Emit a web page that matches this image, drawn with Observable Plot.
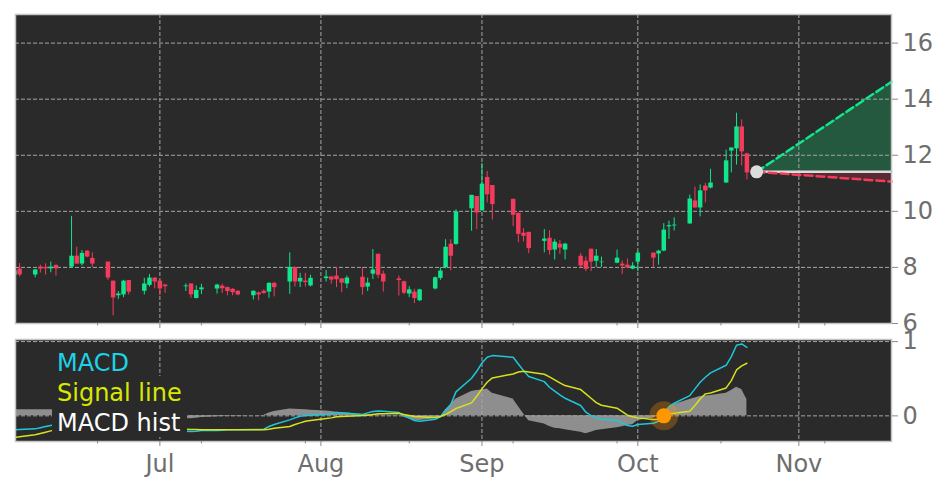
<!DOCTYPE html>
<html>
<head>
<meta charset="utf-8">
<script src="https://cdn.jsdelivr.net/npm/d3@7"></script>
<script src="https://cdn.jsdelivr.net/npm/@observablehq/plot@0.6"></script>
<style>
  html, body { margin: 0; padding: 0; background: #fff; }
  #chart { position: relative; width: 943px; height: 486px; overflow: hidden; font-family: "DejaVu Sans", sans-serif; }
  #chart svg { position: absolute; left: 0; background: transparent; overflow: visible; font-family: "DejaVu Sans", sans-serif; }
  #legendBox { position: absolute; left: 52px; top: 376px; width: 135px; height: 61px; background: #2a2a2a; }
  .lg { position: absolute; left: 57px; font-size: 24px; line-height: 28px; white-space: nowrap; }
</style>
</head>
<body>
<div id="chart"></div>
<script>
const dates = ["2021-06-03","2021-06-04","2021-06-07","2021-06-08","2021-06-09","2021-06-10","2021-06-11","2021-06-14","2021-06-15","2021-06-16","2021-06-17","2021-06-18","2021-06-21","2021-06-22","2021-06-23","2021-06-24","2021-06-25","2021-06-28","2021-06-29","2021-06-30","2021-07-01","2021-07-02","2021-07-06","2021-07-07","2021-07-08","2021-07-09","2021-07-12","2021-07-13","2021-07-14","2021-07-15","2021-07-16","2021-07-19","2021-07-20","2021-07-21","2021-07-22","2021-07-23","2021-07-26","2021-07-27","2021-07-28","2021-07-29","2021-07-30","2021-08-02","2021-08-03","2021-08-04","2021-08-05","2021-08-06","2021-08-09","2021-08-10","2021-08-11","2021-08-12","2021-08-13","2021-08-16","2021-08-17","2021-08-18","2021-08-19","2021-08-20","2021-08-23","2021-08-24","2021-08-25","2021-08-26","2021-08-27","2021-08-30","2021-08-31","2021-09-01","2021-09-02","2021-09-03","2021-09-07","2021-09-08","2021-09-09","2021-09-10","2021-09-13","2021-09-14","2021-09-15","2021-09-16","2021-09-17","2021-09-20","2021-09-21","2021-09-22","2021-09-23","2021-09-24","2021-09-27","2021-09-28","2021-09-29","2021-09-30","2021-10-01","2021-10-04","2021-10-05","2021-10-06","2021-10-07","2021-10-08","2021-10-11","2021-10-12","2021-10-13","2021-10-14","2021-10-15","2021-10-18","2021-10-19","2021-10-20","2021-10-21","2021-10-22"];
const opens = [7.72,7.94,7.73,8.01,8.00,7.95,8.07,8.01,8.40,8.12,8.58,8.32,8.19,7.51,6.99,7.02,7.53,7.15,7.36,7.62,7.51,7.37,7.31,7.41,6.89,7.20,7.23,7.33,7.28,7.22,7.15,6.99,7.09,7.15,7.12,7.43,7.48,8.00,7.48,7.51,7.34,7.60,7.66,7.69,7.59,7.41,7.65,7.30,7.76,8.47,7.76,7.59,7.49,7.05,7.12,6.81,7.23,7.61,7.99,8.83,8.82,10.09,10.53,10.02,11.21,10.92,10.43,9.93,9.22,9.25,8.93,9.04,8.62,8.83,8.62,8.40,8.22,8.65,8.22,8.17,8.15,8.12,8.08,7.94,8.19,8.51,8.48,8.58,9.45,9.48,9.55,10.37,10.12,10.90,10.83,11.01,12.15,12.23,13.01,12.05];
const highs = [7.93,8.14,7.93,8.08,8.13,8.19,8.09,9.82,8.72,8.60,8.60,8.52,8.19,7.51,7.14,7.54,7.54,7.61,7.75,7.63,7.51,7.40,7.41,7.41,7.34,7.40,7.40,7.40,7.30,7.24,7.17,7.16,7.12,7.20,7.46,7.47,8.52,8.01,7.79,7.79,7.72,7.89,7.66,8.00,7.61,7.69,8.00,7.62,8.64,8.47,7.87,7.69,7.51,7.31,7.22,7.22,7.66,7.99,8.99,8.99,10.06,10.57,10.53,11.71,11.42,10.92,10.43,9.93,9.38,9.25,9.35,9.31,8.99,8.96,8.86,8.50,8.37,8.65,8.64,8.37,8.62,8.23,8.30,8.17,8.57,8.51,8.61,9.56,9.65,9.77,10.58,10.87,10.94,11.00,11.50,12.18,12.26,13.50,13.26,12.07];
const lows = [7.66,7.66,7.63,7.80,7.73,7.81,7.69,7.99,8.11,8.05,8.34,7.99,7.54,6.27,6.86,6.92,7.02,7.02,7.30,7.24,6.99,7.07,7.14,6.90,6.88,7.03,7.05,7.07,6.99,6.99,6.99,6.84,6.81,7.04,6.90,6.95,7.04,7.30,7.28,7.30,7.30,7.48,7.40,7.28,7.10,7.24,7.01,7.14,7.57,7.60,7.12,6.98,7.03,6.92,6.71,6.78,7.20,7.54,7.95,7.88,8.79,9.29,9.35,10.00,10.30,9.69,9.46,8.88,8.91,8.49,8.52,8.44,8.27,8.46,8.27,7.99,7.85,7.85,7.99,8.00,8.13,7.75,7.95,7.92,7.85,8.01,8.08,8.56,9.00,9.30,9.54,10.12,9.80,10.30,10.80,10.99,11.37,11.65,11.62,11.12];
const closes = [7.87,7.73,7.91,7.94,7.95,8.01,7.95,8.40,8.12,8.50,8.37,8.12,7.62,6.91,7.05,7.51,7.12,7.41,7.62,7.48,7.23,7.31,7.34,7.02,7.18,7.27,7.37,7.24,7.14,7.10,7.02,7.15,7.02,7.07,7.43,7.28,8.00,7.48,7.61,7.46,7.61,7.66,7.55,7.56,7.44,7.62,7.28,7.44,7.91,7.72,7.48,7.53,7.08,7.20,6.89,7.20,7.63,7.87,8.72,8.40,9.98,10.57,9.94,10.97,10.59,10.24,9.86,9.18,9.11,8.67,9.01,8.60,8.90,8.69,8.83,8.05,7.93,8.19,8.40,8.19,8.33,8.05,7.98,8.05,8.51,8.33,8.58,9.33,9.49,9.51,10.44,10.12,10.73,10.73,11.01,11.80,12.26,13.01,12.12,11.37];
const macdValues = [-.188,-.184,-.175,-.161,-.143,-.130,-.116,-.054,-.027,0,.009,-.009,-.108,-.161,-.188,-.175,-.184,-.179,-.166,-.170,-.184,-.197,-.206,-.211,-.206,-.197,-.197,-.193,-.188,-.188,-.188,-.184,-.184,-.179,-.143,-.116,-.054,-.027,-.004,.004,.009,.018,.027,.045,.040,.036,.018,.040,.058,.067,.063,.045,0,-.031,-.063,-.072,-.045,-.013,.072,.152,.323,.506,.600,.712,.788,.811,.788,.699,.609,.529,.461,.385,.332,.282,.237,.139,.049,.004,-.027,-.045,-.063,-.094,-.130,-.139,-.116,-.099,-.072,.027,.125,.170,.273,.363,.452,.520,.578,.681,.797,.950,.968,.923];
const signalValues = [-.291,-.282,-.255,-.237,-.220,-.202,-.184,-.166,-.143,-.121,-.099,-.090,-.099,-.112,-.125,-.134,-.143,-.148,-.148,-.152,-.157,-.161,-.179,-.184,-.184,-.188,-.188,-.188,-.188,-.188,-.188,-.188,-.188,-.188,-.179,-.166,-.143,-.116,-.094,-.072,-.063,-.036,-.027,-.013,-.009,-.004,.004,.009,.018,.027,.027,.036,.018,.004,-.009,-.013,-.022,-.009,.018,.058,.099,.175,.264,.363,.452,.511,.564,.591,.600,.591,.560,.524,.484,.444,.408,.354,.296,.237,.179,.143,.103,.058,.009,-.013,-.027,-.049,-.049,0,.027,.036,.063,.139,.228,.296,.309,.376,.475,.618,.672,.708];
const histValues = [.081,.081,.081,.081,.081,.081,.081,.072,.081,.108,.125,.108,.045,-.009,-.045,-.027,-.027,-.027,-.009,-.018,-.027,-.036,-.040,-.040,-.031,-.022,-.013,-.009,-.004,-.004,-.004,0,.004,.004,.040,.058,.094,.090,.085,.081,.076,.067,.058,.049,.045,.040,.018,.018,.018,.013,.009,.009,-.018,-.040,-.058,-.063,-.040,-.013,.081,.152,.228,.327,.340,.349,.363,.305,.228,.125,.027,-.067,-.108,-.143,-.166,-.175,-.188,-.220,-.242,-.220,-.197,-.188,-.161,-.148,-.130,-.121,-.063,-.027,0,.054,.116,.152,.220,.242,.260,.269,.273,.305,.340,.385,.354,.220];

const priceTicks = [6,8,10,12,14,16];
const macdTicks = [0,1];
const monthTicks = ["2021-07-01","2021-08-01","2021-09-01","2021-10-01","2021-11-01"];
const minorTicks = ["2021-06-19","2021-07-09","2021-07-29","2021-08-18","2021-09-07","2021-09-27","2021-10-17","2021-11-06"];
const xDomain = ["2021-06-03T05:00Z","2021-11-18T20:00Z"];
const forecastDates = ["2021-10-23T21:00Z","2021-11-18T20:00Z"];
const lastClose = [11.41,11.41];
const upperBound = [11.41,14.62];
const lowerBound = [11.41,11.06];
const macdEvent = [{date:"2021-10-06", value:0}];
const lastPoint = [{date:"2021-10-23T21:00Z", value:11.41}];

const UP = "#10e68c", DOWN = "#f53b5c", PANEL = "#2a2a2a", GRID = "#a6a6a6", TEXT = "#6e6e6e", EDGE = "#c4c4c4", TICK = "#8a8a8a";
const dash = "4,2";
const d = s => new Date(s);
const dom = xDomain.map(d);
const months = monthTicks.map(d), minors = minorTicks.map(d);
const rows = dates.map((s,i) => ({date:d(s), o:opens[i], h:highs[i], l:lows[i], c:closes[i], macd:macdValues[i], signal:signalValues[i], hist:histValues[i], dir: closes[i] >= opens[i] ? "up" : "down"}));
const fc = forecastDates.map((s,i) => ({date:d(s), base:lastClose[i], up:upperBound[i], down:lowerBound[i]}));
const monthFmt = t => d3.utcFormat("%b")(t);

const main = Plot.plot({
  width: 943, height: 339, marginTop: 14, marginBottom: 16, marginLeft: 15, marginRight: 52,
  x: {type:"utc", domain: dom},
  y: {domain: [6, 17.02]},
  color: {domain:["up","down"], range:[UP, DOWN]},
  marks: [
    Plot.frame({fill: PANEL, stroke: "none"}),
    Plot.areaY(fc, {x:"date", y1:"base", y2:"up", fill:"#24583f"}),
    Plot.areaY(fc, {x:"date", y1:"base", y2:"down", fill:"#5a2a34"}),
    Plot.gridY(priceTicks, {stroke: GRID, strokeOpacity: 1, strokeDasharray: dash}),
    Plot.gridX(months, {stroke: GRID, strokeOpacity: 1, strokeDasharray: dash}),
    Plot.ruleX(rows, {x:"date", y1:"l", y2:"h", stroke:"dir", strokeWidth:1, clip:true}),
    Plot.ruleX(rows, {x:"date", y1:"o", y2:"c", stroke:"dir", strokeWidth:4.5, clip:true}),
    Plot.line(fc, {x:"date", y:"base", stroke:"#dcdcdc", strokeWidth:2.5}),
    Plot.line(fc, {x:"date", y:"up", stroke:UP, strokeWidth:2.5, strokeDasharray:"8,4"}),
    Plot.line(fc, {x:"date", y:"down", stroke:DOWN, strokeWidth:2.5, strokeDasharray:"8,4"}),
    Plot.dot(lastPoint, {x:d=>d3.isoParse(d.date), y:"value", r:6.5, fill:"#dcdcdc", stroke:"none"}),
    Plot.frame({stroke: EDGE, strokeWidth: 1.5}),
    Plot.axisY(priceTicks, {anchor:"right", label:null, tickSize:6, tickPadding:5, fontSize:24, stroke:TICK, color:TEXT}),
    Plot.axisX(months, {anchor:"bottom", label:null, tickSize:5, tickFormat:()=>"", stroke:TICK}),
    Plot.axisX(minors, {anchor:"bottom", label:null, tickSize:2.5, tickFormat:()=>"", stroke:TICK})
  ]
});
main.style.top = "0px";

const lower = Plot.plot({
  width: 943, height: 155, marginTop: 8, marginBottom: 45, marginLeft: 15, marginRight: 52,
  x: {type:"utc", domain: dom},
  y: {domain: [-0.345, 1.028]},
  marks: [
    Plot.frame({fill: PANEL, stroke: "none"}),
    Plot.areaY(rows, {x:"date", y1:0, y2:"hist", fill:"#8e8e8e", clip:true}),
    Plot.gridY(macdTicks, {stroke: GRID, strokeOpacity: 1, strokeDasharray: dash}),
    Plot.gridX(months, {stroke: GRID, strokeOpacity: 1, strokeDasharray: dash}),
    Plot.line(rows, {x:"date", y:"macd", stroke:"#1cc8da", strokeWidth:1.5, clip:true}),
    Plot.line(rows, {x:"date", y:"signal", stroke:"#d8e21c", strokeWidth:1.5, clip:true}),
    Plot.dot(macdEvent, {x:d=>d3.isoParse(d.date), y:"value", r:14.5, fill:"#ff9800", fillOpacity:0.28, stroke:"none"}),
    Plot.dot(macdEvent, {x:d=>d3.isoParse(d.date), y:"value", r:7.5, fill:"#ff9800", stroke:"none"}),
    Plot.frame({stroke: EDGE, strokeWidth: 1.5}),
    Plot.axisY(macdTicks, {anchor:"right", label:null, tickSize:6, tickPadding:5, fontSize:24, tickFormat:d3.format("d"), stroke:TICK, color:TEXT}),
    Plot.axisX(months, {anchor:"bottom", label:null, tickSize:5, tickPadding:8, fontSize:24, tickFormat:monthFmt, stroke:TICK, color:TEXT}),
    Plot.axisX(minors, {anchor:"bottom", label:null, tickSize:2.5, tickFormat:()=>"", stroke:TICK})
  ]
});
lower.style.top = "331px";

const chart = document.getElementById("chart");
chart.append(main, lower);
const box = document.createElement("div"); box.id = "legendBox"; chart.append(box);
[["MACD","#1cd4e8",349],["Signal line","#d8e800",379],["MACD hist","#ffffff",409]].forEach(([t,c,top]) => {
  const s = document.createElement("div");
  s.className = "lg"; s.textContent = t; s.style.color = c; s.style.top = top + "px";
  chart.append(s);
});
</script>
</body>
</html>
